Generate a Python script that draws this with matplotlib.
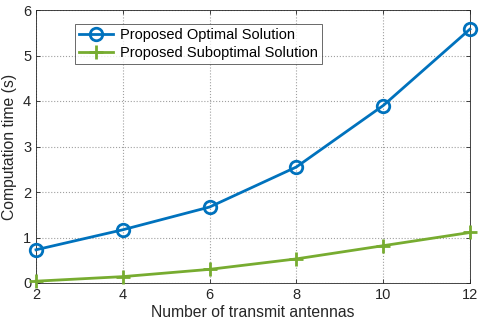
'''Computation time versus number of transmit antennas'''

import matplotlib
matplotlib.use('Agg')
import matplotlib.pyplot as plt

# Data

antennas = [2, 4, 6, 8, 10, 12]
t_optimal = [0.73, 1.17, 1.67, 2.55, 3.90, 5.58]
t_suboptimal = [0.04, 0.14, 0.30, 0.53, 0.82, 1.11]

plt.rcParams['font.family'] = ['Liberation Sans', 'DejaVu Sans']

fig = plt.figure(figsize=(4.85, 3.31), dpi=100)
ax = fig.add_axes([36/485, 1 - 283/331, 434/485, 273/331])

ax.plot(antennas, t_optimal, color='#0072BD', lw=2, marker='o', ms=9,
        mfc='none', mew=2, label='Proposed Optimal Solution', clip_on=False, zorder=3)
ax.plot(antennas, t_suboptimal, color='#77AC30', lw=2, marker='+', ms=10,
        mew=2, label='Proposed Suboptimal Solution', clip_on=False, zorder=3)

ax.set_xlim(2, 12)
ax.set_ylim(0, 6)
ax.set_xticks(antennas)
ax.set_yticks(range(7))
ax.set_xlabel('Number of transmit antennas', fontsize=11.3, color='#262626', labelpad=2)
ax.set_ylabel('Computation time (s)', fontsize=11.3, color='#262626', labelpad=4)
ax.tick_params(labelsize=10.5, colors='#262626', direction='in', length=3, width=0.6,
               top=True, right=True)
ax.grid(True, linestyle=':', color='#a0a0a0', lw=0.8)
for s in ax.spines.values():
    s.set_color('#262626')
    s.set_linewidth(0.6)

leg = ax.legend(loc='upper left', bbox_to_anchor=(39/434, 1 - 14/273), fontsize=10.5,
                frameon=True, fancybox=False, edgecolor='#262626', borderpad=0.3,
                handlelength=2.3, handletextpad=0.5, labelspacing=0.25, borderaxespad=0)
leg.get_frame().set_linewidth(0.6)

fig.savefig('out.png', dpi=100)
